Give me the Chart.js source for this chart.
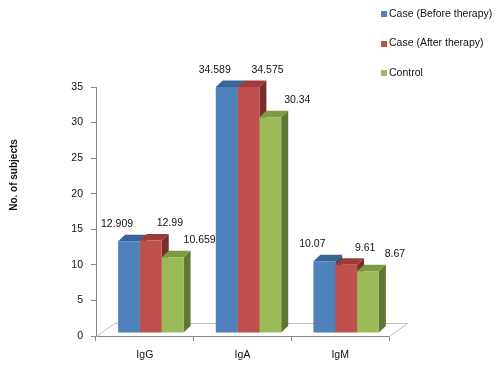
<!DOCTYPE html>
<html>
<head>
<meta charset="utf-8">
<script src="https://cdn.jsdelivr.net/npm/chart.js@4"></script>
<style>
  html, body { margin:0; padding:0; background:#fff; }
  #wrap { width:500px; height:367px; }
</style>
</head>
<body>
<div id="wrap"><canvas id="chart" width="500" height="367"></canvas></div>
<script>
// ── Data ─────────────────────────────────────────────────────
const categories   = ['IgG', 'IgA', 'IgM'];
const seriesNames  = ['Case (Before therapy)', 'Case (After therapy)', 'Control'];
const beforeTherapy = [12.909, 34.589, 10.07];
const afterTherapy  = [12.99, 34.575, 9.61];
const control       = [10.659, 30.34, 8.67];
const yAxisTitle    = 'No. of subjects';

// ── Look ─────────────────────────────────────────────────────
const FONT   = "'Liberation Sans', Arial, sans-serif";
const FRONT  = ['#4f81bd', '#c0504d', '#9bbb59'];
const TOP    = ['#3b6496', '#9c3c3a', '#7d9a45'];
const SIDE   = ['#2c4d74', '#7a2d2b', '#5f7733'];
const AXIS   = '#868686';
const DEPTH  = { dx:7, dy:6.5 };     // bar depth
const SHIFT  = { dx:6, dy:-3 };      // bars sit half way back on the floor
const FLOOR  = { dx:18, dy:13 };
const LABEL_DX = [-12, 19, 27];      // Excel staggers the value labels
const LABEL_DY = -17;

function shade(ctx, pts, color) {
  ctx.beginPath();
  ctx.moveTo(pts[0][0], pts[0][1]);
  for (let i = 1; i < pts.length; i++) ctx.lineTo(pts[i][0], pts[i][1]);
  ctx.closePath();
  ctx.fillStyle = color;
  ctx.fill();
}

// ── 3D faces, floor, labels, legend, title ───────────────────
const excel3d = {
  id: 'excel3d',
  beforeDatasetsDraw(chart) {
    const ctx = chart.ctx, a = chart.chartArea;
    // floor outline
    ctx.save();
    ctx.strokeStyle = '#bfbfbf';
    ctx.lineWidth = 1;
    ctx.beginPath();
    ctx.moveTo(a.left + 0.5, a.bottom + 0.5);
    ctx.lineTo(a.left + FLOOR.dx + 0.5, a.bottom - FLOOR.dy + 0.5);
    ctx.lineTo(a.right + FLOOR.dx + 0.5, a.bottom - FLOOR.dy + 0.5);
    ctx.lineTo(a.right + 0.5, a.bottom + 0.5);
    ctx.stroke();
    ctx.restore();

    ctx.save();
    ctx.translate(SHIFT.dx, SHIFT.dy);
    categories.forEach((c, i) => {
      chart.data.datasets.forEach((ds, d) => {
        const b = chart.getDatasetMeta(d).data[i];
        const L = b.x - b.width / 2, R = b.x + b.width / 2;
        const top = b.y, base = b.base;
        shade(ctx, [[R, top], [R + DEPTH.dx, top - DEPTH.dy], [R + DEPTH.dx, base - DEPTH.dy], [R, base]], SIDE[d]);
        shade(ctx, [[L, top], [L + DEPTH.dx, top - DEPTH.dy], [R + DEPTH.dx, top - DEPTH.dy], [R, top]], TOP[d]);
      });
    });
  },
  afterDatasetsDraw(chart) {
    const ctx = chart.ctx;
    ctx.restore();
    ctx.save();
    ctx.font = `10.5px ${FONT}`;
    ctx.fillStyle = '#111';
    ctx.textAlign = 'center';
    ctx.textBaseline = 'middle';
    chart.data.datasets.forEach((ds, d) => {
      chart.getDatasetMeta(d).data.forEach((b, i) => {
        ctx.fillText(String(ds.data[i]), b.x + SHIFT.dx + LABEL_DX[d], b.y + SHIFT.dy + LABEL_DY);
      });
    });
    ctx.restore();
  },
  afterDraw(chart) {
    const ctx = chart.ctx;
    ctx.save();
    // legend
    ctx.font = `10.5px ${FONT}`;
    ctx.textBaseline = 'middle';
    ctx.textAlign = 'left';
    chart.data.datasets.forEach((ds, d) => {
      const y = 14 + d * 29.5;
      ctx.fillStyle = ds.backgroundColor;
      ctx.fillRect(381, Math.round(y - 3), 6, 6);
      ctx.fillStyle = '#111';
      ctx.fillText(ds.label, 389, y);
    });
    // y axis title
    ctx.translate(14, 175);
    ctx.rotate(-Math.PI / 2);
    ctx.textAlign = 'center';
    ctx.font = `bold 10px ${FONT}`;
    ctx.fillText(yAxisTitle, 0, 0);
    ctx.restore();
  }
};

new Chart(document.getElementById('chart'), {
  type: 'bar',
  data: {
    labels: categories,
    datasets: [
      { label: seriesNames[0], data: beforeTherapy, backgroundColor: FRONT[0] },
      { label: seriesNames[1], data: afterTherapy,  backgroundColor: FRONT[1] },
      { label: seriesNames[2], data: control,       backgroundColor: FRONT[2] },
    ]
  },
  options: {
    responsive: false,
    animation: false,
    devicePixelRatio: 1,
    categoryPercentage: 0.67,
    barPercentage: 1,
    layout: { padding: { left:0, right:111, top:87, bottom:0 } },
    plugins: { legend: { display:false }, tooltip: { enabled:false } },
    scales: {
      y: {
        min: 0, max: 35,
        ticks: { stepSize: 5, color: '#111', padding: 8, font: { family: FONT, size: 10.5 } },
        grid: { drawOnChartArea: false, tickLength: 5, color: AXIS },
        border: { color: AXIS },
        afterFit: s => { s.width = 96; }
      },
      x: {
        ticks: { color: '#111', padding: 8, font: { family: FONT, size: 10.5 } },
        grid: { drawOnChartArea: false, tickLength: 5, color: AXIS, offset: true },
        border: { color: AXIS },
        afterFit: s => { s.height = 31; }
      }
    }
  },
  plugins: [excel3d]
});
</script>
</body>
</html>
